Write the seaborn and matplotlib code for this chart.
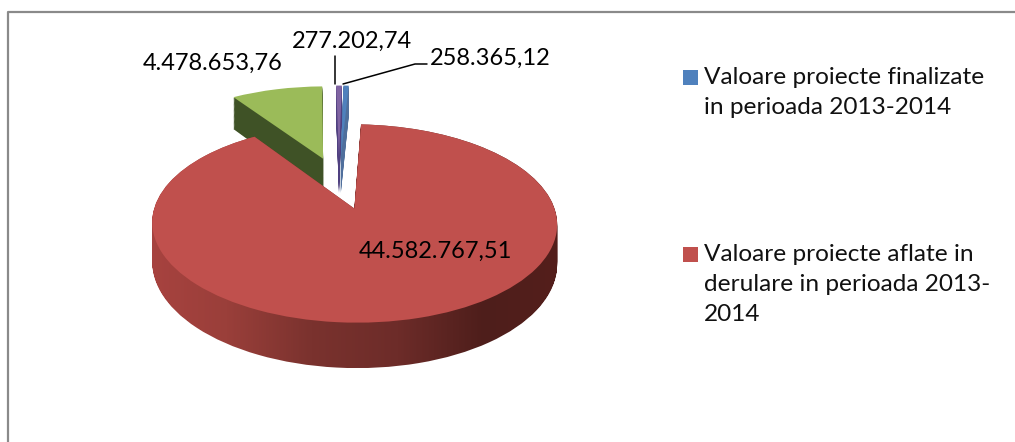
import numpy as np
import matplotlib
matplotlib.use("Agg")
import matplotlib.pyplot as plt
from matplotlib.colors import LinearSegmentedColormap
from matplotlib.patches import Rectangle
from matplotlib.path import Path
from matplotlib.transforms import Transform
import seaborn as sns

# valori
valori = [258365.12, 44582767.51, 4478653.76, 277202.74]
etichete = ["258.365,12", "44.582.767,51", "4.478.653,76", "277.202,74"]
legenda = ["Valoare proiecte finalizate\nin perioada 2013-2014",
           "Valoare proiecte aflate in\nderulare in perioada 2013-\n2014"]
culori = ["#4f81bd", "#c0504d", "#9bbb59", "#8064a2"]
culori_lateral = ["#4f6f9c", "#7a322e", "#3f5226", "#4f4080"]

sns.set_theme(style="white")
plt.rcParams["font.family"] = ["Lato", "DejaVu Sans"]

CX, CY, R, A, K = 339, 182.5, 192, 89.2, 0.145
ADANCIME = 37


class Perspectiva(Transform):
    # duce discul unitate in pixeli, cu perspectiva
    input_dims = 2
    output_dims = 2

    def __init__(self, dz=0):
        super().__init__()
        self.dz = dz

    def transform_non_affine(self, values):
        v = np.asarray(values, dtype=float)
        w = 1 + K * v[:, 1]
        return np.column_stack([CX + R * v[:, 0] / w,
                                CY + (self.dz - A * v[:, 1]) / w])


fig = plt.figure(figsize=(10.15, 4.42), dpi=100)
ax = fig.add_axes([0, 0, 1, 1])


def desen_pie(cols, dz, z):
    wedges, _ = ax.pie(valori, colors=cols, startangle=89, counterclock=False,
                       explode=[0.29] * 4, radius=1, wedgeprops={"linewidth": 0})
    for w in wedges:
        w.set_transform(Perspectiva(dz) + ax.transData)
        w.set_zorder(z)
    return wedges


# laturile feliilor mici, apoi fetele, apoi felia mare deasupra
for dz in np.linspace(ADANCIME, 1, 37):
    ws = desen_pie(culori_lateral, dz, 2)
    ws[1].set_visible(False)
top = desen_pie(culori, 0, 3)
top[1].set_visible(False)

# latura feliei mari: gradient decupat pe forma extrudata
rosu = top[1].get_path()
forme = [Perspectiva(dz).transform_path(rosu) for dz in np.linspace(0, ADANCIME, 38)]
clip = Path.make_compound_path(*forme)
cmap = LinearSegmentedColormap.from_list(
    "lat", ["#a94340", "#9a3f3a", "#7a322e", "#6d2c29", "#4e1e1b", "#551f1c"])
img = ax.imshow(np.linspace(0, 1, 256)[None, :], cmap=cmap, aspect="auto",
                extent=(140, 570, 400, 100), zorder=4)
img.set_clip_path(clip, ax.transData)
fata = desen_pie(culori, 0, 5)
for j in (0, 2, 3):
    fata[j].set_visible(False)

ax.set_aspect("auto")
ax.set_xlim(0, 1015)
ax.set_ylim(442, 0)
ax.axis("off")

# chenar
ax.plot([8, 8, 1015], [442, 12, 12], color="#8a8a8a", lw=1.6, zorder=1)

# etichete si linii de legatura
txt = dict(fontsize=17, color="black", va="center", zorder=7)
ax.text(430, 58, etichete[0], ha="left", **txt)
ax.text(435, 251, etichete[1], ha="center", **txt)
ax.text(283, 63, etichete[2], ha="right", **txt)
ax.text(292, 41, etichete[3], ha="left", **txt)
ax.plot([335, 335], [56, 84], color="black", lw=1.1, zorder=7)
ax.plot([343, 415, 427], [84, 64, 64], color="black", lw=1.1, zorder=7)

# legenda
for y0, col, lab in zip([70, 247], culori[:2], legenda):
    ax.add_patch(Rectangle((683, y0), 15, 15, fc=col, ec="none", zorder=7))
    ax.text(704, y0 - 3, lab, fontsize=17.6, color="#111111", va="top", ha="left",
            linespacing=1.53, zorder=7)

fig.savefig("out.png", dpi=100, facecolor="white")
